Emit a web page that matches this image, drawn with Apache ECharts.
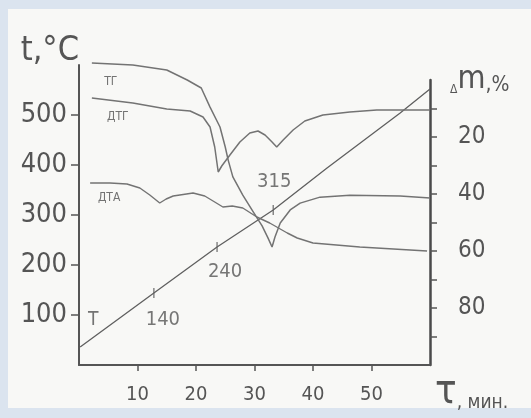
<!DOCTYPE html>
<html>
<head>
<meta charset="utf-8">
<script src="https://cdn.jsdelivr.net/npm/echarts@6/dist/echarts.min.js"></script>
<style>
html, body { margin: 0; padding: 0; background: #dbe4ef; }
#main { width: 531px; height: 418px; }
</style>
</head>
<body>
<div id="main"></div>
<script>
// время, мин / температура T, °C
var tempX = [0.2, 12.8, 23.6, 33.2, 42.4, 54.9, 60];
var tempY = [36, 144, 236, 310, 394, 504, 552];

// отметки на кривой T
var markX = [12.8, 23.6, 33.2];
var markY = [144, 236, 310];
var markLabels = ['140', '240', '315'];

// ТГ, убыль массы %
var tgX = [2.2, 9.2, 15.0, 18.5, 20.9, 22.4, 24.1, 25.0, 25.5, 26.3, 28.0, 29.7, 31.3, 32.3, 33.0, 33.5, 34.4, 36.1, 37.8, 41.2, 46.3, 54.9, 60];
var tgY = [-6.0, -5.3, -3.5, 0, 2.8, 9.5, 16.5, 23.5, 28.1, 34.0, 40.4, 46.0, 51.2, 55.4, 58.6, 55.1, 50.2, 45.6, 43.2, 41.1, 40.4, 40.7, 41.4];

// ДТГ (в масштабе левой оси)
var dtgX = [2.2, 9.2, 15.0, 19.0, 21.2, 22.4, 23.2, 23.8, 24.4, 25.8, 27.5, 29.2, 30.6, 31.8, 33.0, 33.8, 34.9, 36.6, 38.6, 41.7, 46.3, 50.9, 60];
var dtgY = [534, 524, 512, 508, 496, 476, 436, 386, 398, 420, 446, 464, 468, 460, 446, 436, 450, 470, 488, 500, 506, 510, 510];

// ДТА (в масштабе левой оси)
var dtaX = [1.9, 5.3, 8.2, 10.4, 12.1, 13.8, 14.9, 16.1, 19.5, 21.5, 23.2, 24.6, 26.2, 28.0, 30.4, 32.6, 35.6, 37.3, 40.0, 48.0, 59.5];
var dtaY = [364, 364, 362, 354, 340, 324, 332, 338, 344, 338, 326, 316, 318, 314, 296, 284, 264, 254, 244, 236, 228];

var leftTicks = [100, 200, 300, 400, 500];
var rightTicks = [10, 20, 30, 40, 50, 60, 70, 80, 90];
var rightLabels = [20, 40, 60, 80];
var bottomTicks = [10, 20, 30, 40, 50];

var ink = '#555555';
var pencil = '#737373';
var hand = "'DejaVu Sans Condensed', 'DejaVu Sans', sans-serif";

function pts(xs, ys) {
    return xs.map(function (x, i) { return [x, ys[i]]; });
}
// подпись у первой точки кривой
function tag(data, text, offset, size) {
    data[0] = {
        value: data[0],
        label: {show: true, formatter: text, position: 'inside', offset: offset,
            color: pencil, fontSize: size || 12, fontFamily: hand}
    };
    return data;
}
function curve(name, data, xi, yi, color, width) {
    return {
        name: name, type: 'line', data: data, xAxisIndex: xi, yAxisIndex: yi,
        symbol: 'circle', symbolSize: 0, showSymbol: true, clip: false, silent: true,
        lineStyle: {color: color, width: width}, itemStyle: {color: color}
    };
}

var markData = pts(markX, markY);
var markOffsets = [[9, 27], [8, 25], [1, -28]];

var chart = echarts.init(document.getElementById('main'));
var option = {
    animation: false,
    graphic: [{
        type: 'rect', z: -10, silent: true,
        shape: {x: 8, y: 9, width: 523, height: 399},
        style: {fill: '#f8f8f6'}
    }],
    grid: [
        {left: 79, right: 101, top: 65, bottom: 53},
        {left: 79, right: 101, top: 80, bottom: 53}
    ],
    xAxis: [{
        type: 'value', gridIndex: 0, min: 0, max: 60,
        axisLine: {show: true, lineStyle: {color: ink, width: 2}},
        axisTick: {show: true, customValues: bottomTicks, length: 6, lineStyle: {color: ink, width: 1.5}},
        axisLabel: {customValues: bottomTicks, margin: 20, fontSize: 20, fontFamily: hand, color: ink},
        splitLine: {show: false},
        name: '{t|τ}{s|, мин.}', nameLocation: 'end', nameGap: 5,
        nameTextStyle: {
            align: 'left', verticalAlign: 'top', padding: [8, 0, 0, 0],
            rich: {
                t: {fontSize: 40, fontFamily: hand, color: ink, verticalAlign: 'bottom'},
                s: {fontSize: 19, fontFamily: hand, color: ink, verticalAlign: 'bottom'}
            }
        }
    }, {
        type: 'value', gridIndex: 1, min: 0, max: 60, show: false
    }],
    yAxis: [{
        type: 'value', gridIndex: 0, min: 0, max: 600, position: 'left',
        axisLine: {show: true, onZero: false, lineStyle: {color: ink, width: 2}},
        axisTick: {show: true, customValues: leftTicks, length: 8, lineStyle: {color: ink, width: 1.5}},
        axisLabel: {customValues: leftTicks, margin: 12, fontSize: 27, fontFamily: hand, color: ink},
        splitLine: {show: false},
        name: 't,°C', nameLocation: 'end', nameGap: 14,
        nameTextStyle: {align: 'right', verticalAlign: 'middle', fontSize: 34, fontFamily: hand, color: ink}
    }, {
        type: 'value', gridIndex: 1, min: 0, max: 100, inverse: true, position: 'right',
        axisLine: {show: true, onZero: false, lineStyle: {color: '#4a4a4a', width: 2.5}},
        axisTick: {show: true, customValues: rightTicks, length: 7, lineStyle: {color: ink, width: 1.5}},
        axisLabel: {customValues: rightLabels, margin: 28, fontSize: 24, fontFamily: hand, color: ink},
        splitLine: {show: false},
        name: '{d|Δ}{m|m}{p|,%}', nameLocation: 'start', nameGap: 0,
        nameTextStyle: {
            align: 'left', verticalAlign: 'middle', padding: [0, 0, 0, 20],
            rich: {
                d: {fontSize: 12, fontFamily: hand, color: ink, verticalAlign: 'bottom'},
                m: {fontSize: 32, fontFamily: hand, color: ink, verticalAlign: 'bottom'},
                p: {fontSize: 21, fontFamily: hand, color: ink, verticalAlign: 'bottom'}
            }
        }
    }],
    series: [
        curve('T', tag(pts(tempX, tempY), 'T', [13, -27], 19), 0, 0, '#5f5f5f', 1.3),
        curve('ТГ', tag(pts(tgX, tgY), 'ТГ', [19, 19]), 1, 1, pencil, 1.5),
        curve('ДТГ', tag(pts(dtgX, dtgY), 'ДТГ', [26, 19]), 0, 0, pencil, 1.5),
        curve('ДТА', tag(pts(dtaX, dtaY), 'ДТА', [19, 15]), 0, 0, pencil, 1.4),
        {
            name: 'отметки', type: 'scatter', xAxisIndex: 0, yAxisIndex: 0, silent: true,
            symbol: 'rect', symbolSize: [1.3, 10], itemStyle: {color: ink},
            data: markData.map(function (p, i) {
                return {
                    value: p,
                    label: {show: true, formatter: markLabels[i], position: 'inside',
                        offset: markOffsets[i], color: ink, fontSize: 20, fontFamily: hand}
                };
            })
        }
    ]
};
chart.setOption(option);
</script>
</body>
</html>
